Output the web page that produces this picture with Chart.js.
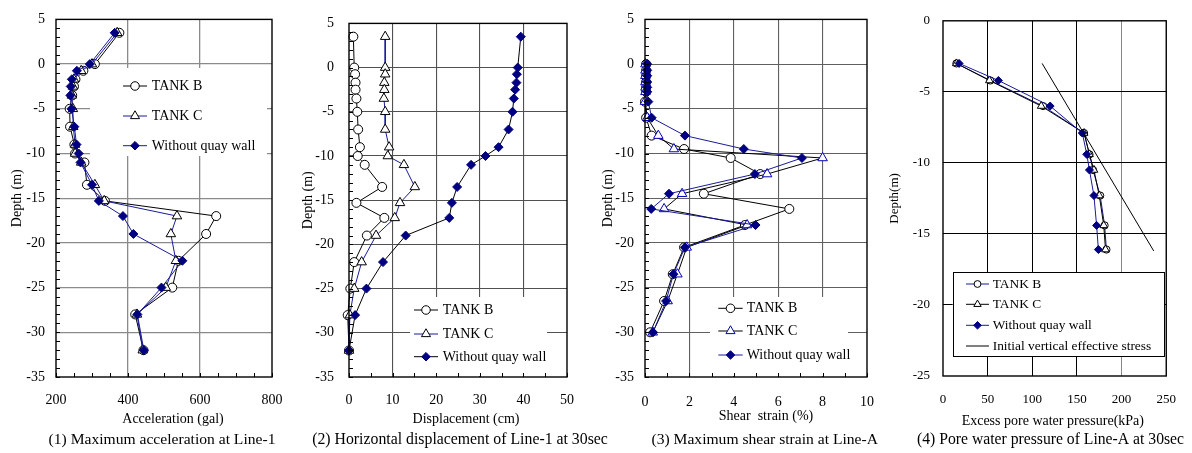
<!DOCTYPE html>
<html><head><meta charset="utf-8">
<script src="https://cdn.jsdelivr.net/npm/chart.js@4.4.1/dist/chart.umd.min.js"></script>
<style>
html,body{margin:0;padding:0;background:#fff;width:1192px;height:453px;overflow:hidden}
canvas{position:absolute;top:0;left:0;width:1192px;height:453px}
</style></head><body>
<canvas id="c1" width="1192" height="453"></canvas>
<canvas id="c2" width="1192" height="453"></canvas>
<canvas id="c3" width="1192" height="453"></canvas>
<canvas id="c4" width="1192" height="453"></canvas>
<script>
// ===== DATA =====
// (1) Maximum acceleration at Line-1
const accDepth  = [3.5, 0, -0.75, -1.7, -2.5, -3.5, -5, -7, -9, -10, -11, -13.5, -15.3, -17, -19, -22, -25, -28, -32];
const accTankB  = [376, 308, 276, 254, 250, 245, 238, 239, 251, 253, 279, 286, 336, 645, 617, 540, 523, 420, 443];
const accTankC  = [370, 300, 270, 250, 247, 244, 247, 248, 253, 253, 270, 308, 334, 536, 519, 533, 505, 425, 441];
const accNoWall = [363, 294, 258, 244, 241, 240, 243, 251, 257, 263, 268, 300, 319, 386, 415, 551, 493, 426, 444];
const accTicks  = [200, 400, 600, 800];

// (2) Horizontal displacement of Line-1 at 30sec
const dispDepth  = [3.5, 0, -0.75, -1.7, -2.5, -3.5, -5, -7, -9, -10, -11, -13.5, -15.3, -17, -19, -22, -25, -28, -32];
const dispTankB  = [1.0, 1.2, 1.4, 1.5, 1.5, 1.7, 1.9, 2.1, 2.5, 2.0, 3.6, 7.6, 1.7, 8.1, 4.1, 1.2, 0.3, -0.3, 0];
const dispTankC  = [8.3, 8.3, 8.3, 8.1, 8.1, 8.0, 8.3, 8.3, 9.2, 8.9, 12.6, 15.1, 11.7, 10.5, 6.2, 2.9, 1.2, 0.2, 0];
const dispNoWall = [39.4, 38.7, 38.5, 38.4, 38.1, 37.8, 37.5, 36.6, 34.3, 31.3, 28.0, 24.8, 23.6, 23.0, 13.0, 7.8, 4.0, 1.4, 0];
const dispTicks  = [0, 10, 20, 30, 40, 50];

// (3) Maximum shear strain at Line-A
const strainDepth  = [0, -0.7, -1.3, -2, -2.6, -3.1, -4.2, -6, -8, -9.5, -10.5, -12.3, -14.5, -16.2, -18, -20.5, -23.5, -26.5, -30];
const strainTankB  = [0.05, 0.05, 0.05, 0.05, 0.05, 0.05, 0.0, 0.05, 0.3, 1.76, 3.86, 5.19, 2.65, 6.5, 4.5, 1.76, 1.25, 0.86, 0.23];
const strainTankC  = [0.02, 0.02, 0.02, 0.02, 0.02, 0.02, 0.0, 0.1, 0.6, 1.3, 8.0, 5.5, 1.67, 0.86, 4.6, 1.88, 1.46, 1.02, 0.35];
const strainNoWall = [0.1, 0.1, 0.1, 0.1, 0.1, 0.1, 0.15, 0.3, 1.8, 4.45, 7.07, 4.95, 1.08, 0.28, 4.98, 1.8, 1.28, 0.95, 0.36];
const strainTicks  = [0, 2, 4, 6, 8, 10];

// (4) Pore water pressure of Line-A at 30sec
const pwpDepth  = [-3, -4.2, -6, -7.9, -9.4, -10.5, -12.3, -14.4, -16.1];
const pwpTankB  = [15, 53, 112, 158, 164, 168, 176, 181, 183];
const pwpTankC  = [15, 52, 110, 158, 164, 169, 175, 180, 182];
const pwpNoWall = [18, 62, 120, 156, 161, 164, 169, 172, 174];
const stressDepth = [-3, -16.2];
const stressValue = [111, 236];
const pwpTicks  = [0, 50, 100, 150, 200, 250];

const depthTicks45 = [5, 0, -5, -10, -15, -20, -25, -30, -35];
const depthTicks25 = [0, -5, -10, -15, -20, -25];

// ===== STYLE =====
const FONT = '"Liberation Serif", "Times New Roman", serif';
Chart.defaults.font.family = FONT;
Chart.defaults.color = '#000';
const NAVY = '#000080';
const BLUE = '#1a1a9a';
const W = 1192, H = 453;

function drawMarker(ctx, style, x, y, r, fill, stroke) {
  ctx.save();
  ctx.beginPath();
  if (style === 'circle') {
    ctx.arc(x, y, r, 0, Math.PI * 2);
  } else if (style === 'triangle') {
    for (let k = 0; k < 3; k++) {
      const a = k * 2 * Math.PI / 3;
      const px = x + Math.sin(a) * r, py = y - Math.cos(a) * r;
      k ? ctx.lineTo(px, py) : ctx.moveTo(px, py);
    }
    ctx.closePath();
  } else if (style === 'rectRot') {
    ctx.moveTo(x, y - r); ctx.lineTo(x + r, y); ctx.lineTo(x, y + r); ctx.lineTo(x - r, y); ctx.closePath();
  }
  ctx.fillStyle = fill; ctx.fill();
  ctx.lineWidth = 1; ctx.strokeStyle = stroke; ctx.stroke();
  ctx.restore();
}

function makeDecor(P) {
  return {
    id: 'decor' + P.id,
    beforeDatasetsDraw(chart) {
      const ctx = chart.ctx, lg = P.legend;
      const b = lg.box;
      ctx.save();
      ctx.fillStyle = '#fff';
      ctx.fillRect(b[0], b[1], b[2] - b[0], b[3] - b[1]);
      if (lg.border) {
        ctx.strokeStyle = '#000'; ctx.lineWidth = 1;
        ctx.strokeRect(Math.round(b[0]) + 0.5, Math.round(b[1]) + 0.5, Math.round(b[2] - b[0]), Math.round(b[3] - b[1]));
      }
      ctx.restore();
    },
    afterDraw(chart) {
      const ctx = chart.ctx, a = chart.chartArea;
      const xs = chart.scales.x, ys = chart.scales.y;
      ctx.save();
      // minor ticks (inside)
      ctx.strokeStyle = '#000'; ctx.lineWidth = 1;
      if (P.yMinor) {
        for (let v = P.yMin; v <= P.yMax + 1e-9; v += P.yMinor) {
          const py = Math.round(ys.getPixelForValue(v)) + 0.5;
          ctx.beginPath(); ctx.moveTo(a.left, py); ctx.lineTo(a.left + 4, py); ctx.stroke();
        }
      }
      if (P.xMinor) {
        for (let v = P.xMin; v <= P.xMax + 1e-9; v += P.xMinor) {
          const px = Math.round(xs.getPixelForValue(v)) + 0.5;
          ctx.beginPath(); ctx.moveTo(px, a.bottom); ctx.lineTo(px, a.bottom - 4); ctx.stroke();
        }
      }
      // frame
      ctx.lineWidth = 1.4; ctx.strokeStyle = '#000';
      ctx.strokeRect(a.left, a.top, a.right - a.left, a.bottom - a.top);
      // legend items
      const lg = P.legend;
      ctx.font = lg.size + 'px ' + FONT;
      ctx.textBaseline = 'middle'; ctx.textAlign = 'left'; ctx.fillStyle = '#000';
      lg.items.forEach((it, i) => {
        const y = lg.rows[i];
        const ds = chart.data.datasets.find(d => d.label === it);
        ctx.strokeStyle = ds.borderColor; ctx.lineWidth = 1;
        ctx.beginPath(); ctx.moveTo(lg.x1, y); ctx.lineTo(lg.x2, y); ctx.stroke();
        if (ds.pointRadius > 0) {
          drawMarker(ctx, ds.pointStyle, (lg.x1 + lg.x2) / 2, y, ds.pointRadius * 0.95, ds.pointBackgroundColor, ds.pointBorderColor);
        }
        ctx.fillStyle = '#000';
        ctx.fillText(it, lg.tx, y + 0.5);
      });
      // axis title and caption
      ctx.textAlign = 'center';
      ctx.font = P.xTitle.size + 'px ' + FONT;
      ctx.fillText(P.xTitle.text, P.xTitle.x, P.xTitle.y);
      ctx.font = P.caption.size + 'px ' + FONT;
      ctx.fillText(P.caption.text, P.caption.x, P.caption.y);
      ctx.restore();
    }
  };
}

function build(canvasId, P) {
  const datasets = P.series.map(s => ({
    label: s.label,
    data: s.xs.map((v, i) => ({ x: v, y: s.ys[i] })),
    showLine: true,
    borderColor: s.line,
    borderWidth: 1,
    pointStyle: s.style || 'circle',
    pointRadius: s.r || 0,
    pointHoverRadius: s.r || 0,
    pointBackgroundColor: s.fill || '#fff',
    pointBorderColor: s.stroke || '#000',
    pointBorderWidth: 1,
    clip: false,
    tension: 0
  })).reverse();
  const gridCol = (lo, hi, col, special) => ctx => {
    const v = ctx.tick ? ctx.tick.value : null;
    if (v === lo || v === hi) return 'rgba(0,0,0,0)';
    if (special && special[v]) return special[v];
    return col;
  };
  return new Chart(document.getElementById(canvasId), {
    type: 'scatter',
    data: { datasets },
    plugins: [makeDecor(P)],
    options: {
      responsive: false, animation: false, events: [],
      layout: { padding: { left: P.left, top: P.plotTop, right: W - P.plotRight, bottom: 0 } },
      plugins: { legend: { display: false }, tooltip: { enabled: false } },
      scales: {
        x: {
          type: 'linear', position: 'bottom',
          min: P.xTicks[0], max: P.xTicks[P.xTicks.length - 1],
          afterBuildTicks: s => { s.ticks = P.xTicks.map(v => ({ value: v })); },
          ticks: { autoSkip: false, padding: P.xLabelPad, font: { size: P.tickSize }, color: '#000', maxRotation: 0 },
          grid: { drawTicks: false, color: gridCol(P.xTicks[0], P.xTicks[P.xTicks.length - 1], P.gridX, P.gridSpecial), lineWidth: P.gridW },
          border: { display: false },
          afterFit: s => { s.height = H - P.plotBottom; }
        },
        y: {
          type: 'linear', position: 'left',
          min: Math.min(...P.yTicks), max: Math.max(...P.yTicks),
          afterBuildTicks: s => { s.ticks = P.yTicks.slice().sort((p, q) => p - q).map(v => ({ value: v })); },
          ticks: { autoSkip: false, padding: P.yLabelPad, font: { size: P.tickSize }, color: '#000' },
          grid: { drawTicks: false, color: gridCol(Math.min(...P.yTicks), Math.max(...P.yTicks), P.gridY), lineWidth: P.gridW },
          border: { display: false },
          title: { display: true, text: P.yTitle, font: { size: P.yTitleSize }, color: '#000', padding: { top: P.yTitlePad, bottom: 0 } },
          afterFit: s => { s.width = P.plotLeft - P.left; }
        }
      }
    }
  });
}

const sB = (xs, ys, line, r) => ({ label: 'TANK B', xs, ys, line, style: 'circle', r, fill: '#fff', stroke: '#000' });
const sC = (xs, ys, line, r, stroke) => ({ label: 'TANK C', xs, ys, line, style: 'triangle', r, fill: '#fff', stroke: stroke || '#000' });
const sN = (xs, ys, line, r) => ({ label: 'Without quay wall', xs, ys, line, style: 'rectRot', r, fill: NAVY, stroke: NAVY });

build('c1', {
  id: 1, left: 0, plotLeft: 56, plotRight: 272, plotTop: 14, plotBottom: 377,
  xTicks: accTicks, yTicks: depthTicks45, xMin: 200, xMax: 800, xMinor: 50, yMin: -35, yMax: 5, yMinor: 1,
  tickSize: 14, xLabelPad: 15, yLabelPad: 11, gridX: '#8a8a8a', gridY: '#8a8a8a', gridW: 1.3,
  yTitle: 'Depth (m)', yTitleSize: 14, yTitlePad: 9.2,
  series: [sB(accTankB, accDepth, '#000', 4.5), sC(accTankC, accDepth, BLUE, 5.5), sN(accNoWall, accDepth, BLUE, 4.5)],
  legend: { box: [90, 68, 267, 156], x1: 123, x2: 147, tx: 151.7, rows: [86, 116, 145.7], size: 14, items: ['TANK B', 'TANK C', 'Without quay wall'] },
  xTitle: { text: 'Acceleration (gal)', x: 173, y: 419, size: 14 },
  caption: { text: '(1) Maximum acceleration at Line-1', x: 162, y: 440, size: 15.6 }
});

build('c2', {
  id: 2, left: 290, plotLeft: 349, plotRight: 567, plotTop: 14, plotBottom: 377,
  xTicks: dispTicks, yTicks: depthTicks45, xMin: 0, xMax: 50, xMinor: 5, yMin: -35, yMax: 5, yMinor: 1,
  tickSize: 14, xLabelPad: 15, yLabelPad: 15, gridX: '#505050', gridY: '#505050', gridW: 1.1,
  yTitle: 'Depth (m)', yTitleSize: 14, yTitlePad: 10,
  series: [sB(dispTankB, dispDepth, '#000', 4.5), sC(dispTankC, dispDepth, BLUE, 5.5), sN(dispNoWall, dispDepth, '#000', 4.5)],
  legend: { box: [410, 297, 547, 376], x1: 414, x2: 438, tx: 442.7, rows: [310, 334, 356.7], size: 14, items: ['TANK B', 'TANK C', 'Without quay wall'] },
  xTitle: { text: 'Displacement (cm)', x: 466, y: 419.3, size: 14 },
  caption: { text: '(2) Horizontal displacement of Line-1 at 30sec', x: 460, y: 440, size: 15.8 }
});

build('c3', {
  id: 3, left: 590, plotLeft: 645, plotRight: 867, plotTop: 14, plotBottom: 377,
  xTicks: strainTicks, yTicks: depthTicks45, xMin: 0, xMax: 10, xMinor: 1, yMin: -35, yMax: 5, yMinor: 1,
  tickSize: 14, xLabelPad: 16.5, yLabelPad: 11, gridX: '#606060', gridY: '#606060', gridW: 1.1,
  yTitle: 'Depth (m)', yTitleSize: 14, yTitlePad: 10,
  series: [sB(strainTankB, strainDepth, '#000', 4.5), sC(strainTankC, strainDepth, '#000', 5.5, '#0000c0'), sN(strainNoWall, strainDepth, BLUE, 4.5)],
  legend: { box: [710, 297, 848, 376], x1: 718.3, x2: 742.7, tx: 746.7, rows: [308.3, 331, 355], size: 14, items: ['TANK B', 'TANK C', 'Without quay wall'] },
  xTitle: { text: 'Shear  strain (%)', x: 766, y: 416.7, size: 14 },
  caption: { text: '(3) Maximum shear strain at Line-A', x: 764.7, y: 440, size: 15.6 }
});

build('c4', {
  id: 4, left: 890, plotLeft: 943, plotRight: 1169, plotTop: 14, plotBottom: 376,
  xTicks: pwpTicks, yTicks: depthTicks25, xMin: 0, xMax: 250, xMinor: 0, yMin: -25, yMax: 0, yMinor: 0,
  tickSize: 13, xLabelPad: 16, yLabelPad: 13, gridX: '#000', gridY: '#000', gridW: 1, gridSpecial: { 200: '#888' },
  yTitle: 'Depth(m)', yTitleSize: 13, yTitlePad: -2.8,
  series: [sB(pwpTankB, pwpDepth, BLUE, 3.6), sC(pwpTankC, pwpDepth, '#000', 4.5), sN(pwpNoWall, pwpDepth, BLUE, 4),
           { label: 'Initial vertical effective stress', xs: stressValue, ys: stressDepth, line: '#000', r: 0 }],
  legend: { box: [952.7, 272.3, 1164, 356.7], border: true, x1: 966, x2: 989, tx: 992.7, rows: [284, 304.3, 325.3, 346], size: 13.4,
            items: ['TANK B', 'TANK C', 'Without quay wall', 'Initial vertical effective stress'] },
  xTitle: { text: 'Excess pore water pressure(kPa)', x: 1052.8, y: 421, size: 14 },
  caption: { text: '(4) Pore water pressure of Line-A at 30sec', x: 1050.5, y: 440, size: 15.7 }
});
</script>
</body></html>
